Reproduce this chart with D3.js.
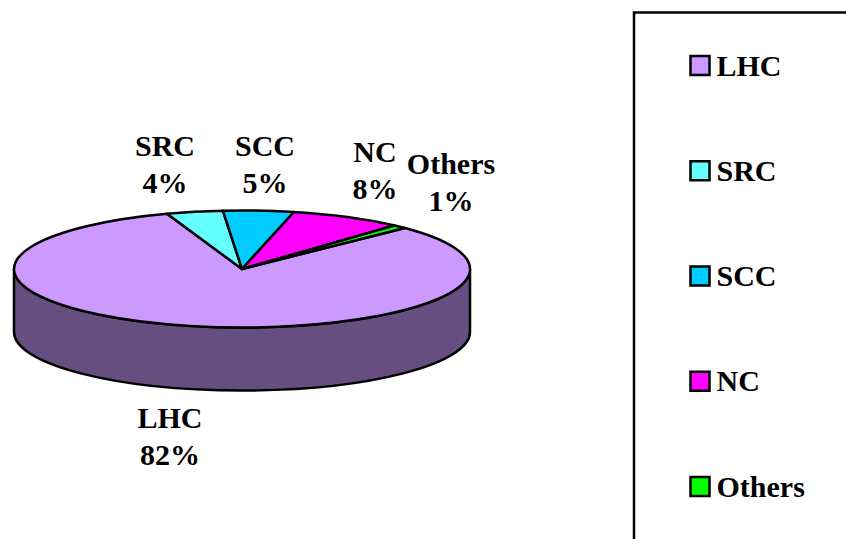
<!DOCTYPE html>
<html lang="en">
<head>
  <meta charset="UTF-8" />
  <title>Pie chart</title>
  <script src="https://d3js.org/d3.v7.min.js"></script>
  <style>
    body { margin: 0; padding: 0; background: white; }
    svg { display: block; }
    text { font-family: "Liberation Serif", serif; font-weight: bold; fill: black; font-size: 30px; }
  </style>
</head>
<body>
  <svg id="chart" width="846" height="539"></svg>
  <script>
    const categories = ["LHC", "SRC", "SCC", "NC", "Others"];
    const shares = [82, 4, 5, 8, 1];
    const colors = ["#cc99ff", "#66ffff", "#00ccff", "#ff00ff", "#00ff00"];

    const svg = d3.select("#chart");
    const cx = 242, cy = 269, rx = 228, ry = 58.5, depth = 63;

    // side of the pie, only the front half shows
    svg.append("path")
      .attr("d", `M${cx - rx},${cy} A${rx},${ry} 0 0 0 ${cx + rx},${cy} L${cx + rx},${cy + depth} A${rx},${ry} 0 0 1 ${cx - rx},${cy + depth} Z`)
      .attr("fill", "#664e80")
      .attr("stroke", "black")
      .attr("stroke-width", 2.5);

    const start = 45.6 * Math.PI / 180;
    const pie = d3.pie().sort(null)
      .startAngle(start)
      .endAngle(start + 2 * Math.PI);
    const arc = d3.arc().innerRadius(0).outerRadius(1);

    // unit arcs squashed into the ellipse
    svg.append("g")
      .attr("transform", `translate(${cx},${cy}) scale(${rx},${ry})`)
      .selectAll("path")
      .data(pie(shares))
      .enter()
      .append("path")
      .attr("d", arc)
      .attr("fill", (d, i) => colors[i])
      .attr("stroke", "black")
      .attr("stroke-width", 2.5)
      .attr("stroke-linejoin", "round")
      .attr("vector-effect", "non-scaling-stroke");

    // data labels, placed by hand like the original
    const labelX = [170, 165, 265, 375, 451];
    const labelY = [428, 156, 156, 162, 174];
    const labels = svg.append("g").attr("text-anchor", "middle");
    categories.forEach((c, i) => {
      labels.append("text").attr("x", labelX[i]).attr("y", labelY[i]).text(c);
      labels.append("text").attr("x", labelX[i]).attr("y", labelY[i] + 37).text(shares[i] + "%");
    });

    // legend box runs off the right and bottom of the page
    svg.append("path")
      .attr("d", "M634,539 V12.5 H846")
      .attr("fill", "none")
      .attr("stroke", "black")
      .attr("stroke-width", 2.5);

    const legendY = d3.scalePoint().domain(categories).range([65.5, 486.5]);
    const legend = svg.append("g").selectAll("g")
      .data(categories)
      .enter()
      .append("g")
      .attr("transform", d => `translate(690.5,${legendY(d)})`);
    legend.append("rect")
      .attr("x", 0).attr("y", -9.5)
      .attr("width", 19).attr("height", 19)
      .attr("fill", (d, i) => colors[i])
      .attr("stroke", "black")
      .attr("stroke-width", 2.5);
    legend.append("text")
      .attr("x", 26).attr("y", 10)
      .text(d => d);
  </script>
</body>
</html>
